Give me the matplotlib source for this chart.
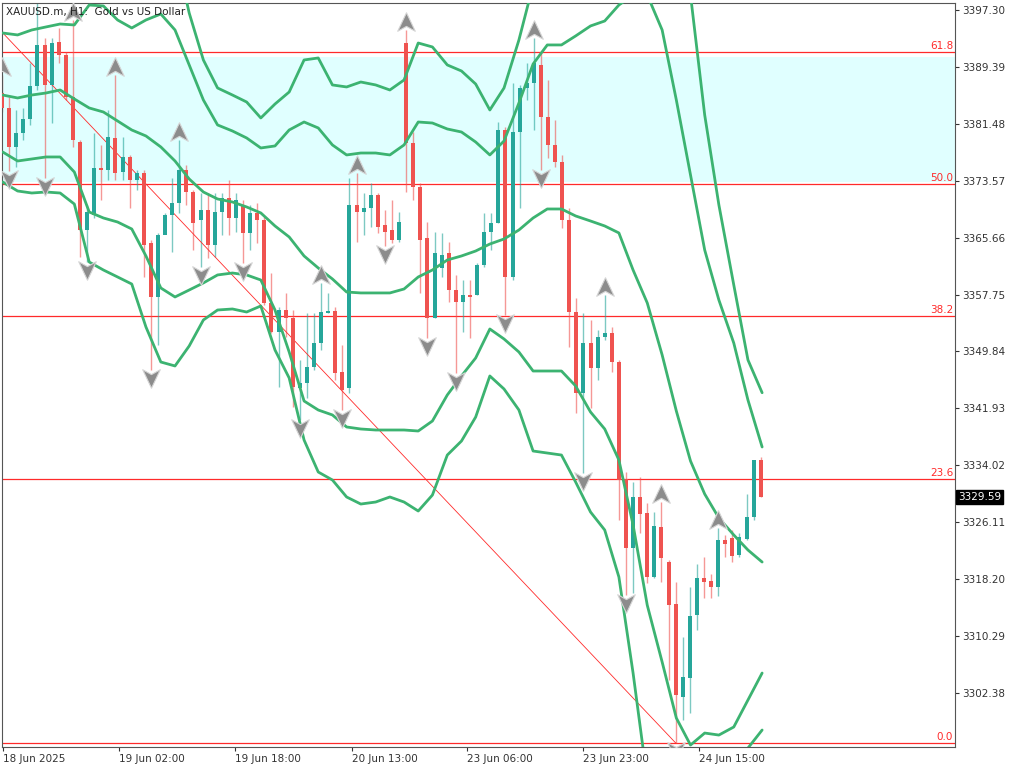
import matplotlib
matplotlib.use('Agg')
import matplotlib.pyplot as plt
from matplotlib.path import Path
from matplotlib.transforms import blended_transform_factory

# ---- velas H1 XAUUSD ----
opens = [
    3385.76, 3383.68, 3378.26, 3380.21, 3382.15, 3386.74, 3392.44, 3386.88, 3392.85, 3391.05,
    3385.21, 3378.95, 3366.72, 3368.81, 3375.34, 3375.06, 3379.51, 3374.78, 3376.87, 3373.67,
    3374.65, 3364.92, 3357.41, 3366.03, 3368.81, 3370.48, 3375.06, 3372.00, 3368.11, 3369.50,
    3364.64, 3369.23, 3371.17, 3368.39, 3370.20, 3366.31, 3369.09, 3368.11, 3356.58, 3352.55,
    3355.60, 3354.49, 3344.76, 3345.46, 3347.68, 3351.02, 3355.19, 3355.47, 3346.99, 3344.76,
    3370.20, 3369.23, 3369.78, 3371.59, 3367.42, 3366.72, 3365.34, 3392.71, 3378.81, 3372.70,
    3365.61, 3354.49, 3361.44, 3363.53, 3358.38, 3356.72, 3357.69, 3357.69, 3361.86, 3366.45,
    3367.70, 3380.62, 3360.19, 3380.34, 3386.46, 3387.15, 3389.66, 3382.43, 3378.54, 3376.17,
    3368.11, 3355.33, 3344.07, 3351.02, 3347.54, 3351.85, 3352.41, 3348.38, 3332.12, 3322.53,
    3329.62, 3327.39, 3318.50, 3325.45, 3320.58, 3314.75, 3301.82, 3304.46, 3313.22, 3318.36,
    3317.94, 3317.11, 3323.64, 3323.92, 3321.56, 3323.78, 3326.84, 3334.76]
closes = [
    3383.68, 3378.26, 3380.21, 3382.15, 3386.74, 3392.44, 3386.88, 3392.71, 3391.05, 3385.21,
    3379.23, 3366.72, 3369.23, 3375.34, 3375.06, 3379.65, 3374.65, 3376.87, 3373.67, 3374.65,
    3364.64, 3357.41, 3366.03, 3368.81, 3370.48, 3375.06, 3372.00, 3367.70, 3369.50, 3364.64,
    3369.23, 3371.17, 3368.39, 3370.89, 3366.31, 3369.09, 3368.11, 3356.58, 3352.55, 3355.60,
    3354.49, 3344.90, 3345.46, 3347.68, 3351.02, 3355.33, 3355.47, 3346.85, 3344.49, 3370.20,
    3369.23, 3369.78, 3371.59, 3367.14, 3366.45, 3365.34, 3367.84, 3378.81, 3372.70, 3365.34,
    3354.49, 3363.53, 3363.25, 3358.38, 3356.72, 3357.69, 3357.41, 3361.86, 3366.45, 3367.70,
    3380.62, 3360.19, 3380.34, 3386.46, 3387.15, 3389.93, 3382.43, 3378.54, 3376.17, 3368.11,
    3355.33, 3344.07, 3351.02, 3347.54, 3351.85, 3352.41, 3348.38, 3331.98, 3322.53, 3329.62,
    3327.25, 3318.50, 3325.58, 3321.14, 3314.61, 3302.10, 3304.60, 3313.08, 3318.36, 3317.80,
    3317.11, 3323.64, 3323.08, 3321.42, 3324.06, 3326.84, 3334.76, 3329.59]
highs = [
    3388.27, 3385.21, 3383.40, 3383.68, 3389.93, 3398.50, 3393.41, 3393.41, 3394.80, 3391.46,
    3395.91, 3379.23, 3370.20, 3380.21, 3378.54, 3383.40, 3388.27, 3379.65, 3377.15, 3375.06,
    3375.06, 3365.34, 3366.31, 3369.09, 3373.95, 3379.23, 3375.76, 3372.28, 3371.87, 3371.87,
    3371.87, 3371.87, 3373.67, 3371.87, 3370.89, 3370.20, 3370.48, 3368.53, 3360.75, 3356.02,
    3357.97, 3355.60, 3348.66, 3355.19, 3355.19, 3359.36, 3357.97, 3356.02, 3350.74, 3373.95,
    3374.65, 3371.87, 3373.26, 3371.87, 3369.50, 3370.89, 3369.23, 3394.52, 3380.34, 3373.26,
    3367.84, 3366.45, 3366.31, 3365.06, 3360.47, 3359.77, 3359.77, 3362.14, 3369.09, 3369.09,
    3381.73, 3381.04, 3387.15, 3386.88, 3389.93, 3393.41, 3391.32, 3387.57, 3382.01, 3377.15,
    3369.78, 3357.27, 3355.19, 3354.22, 3352.83, 3357.69, 3353.24, 3348.66, 3333.09, 3331.70,
    3332.40, 3328.78, 3327.53, 3328.92, 3320.86, 3317.80, 3310.16, 3317.11, 3320.30, 3321.28,
    3318.91, 3325.31, 3324.34, 3325.03, 3324.61, 3330.03, 3334.76, 3335.17]
lows = [
    3383.12, 3374.90, 3375.48, 3379.23, 3381.32, 3386.18, 3373.95, 3381.60, 3389.93, 3384.79,
    3378.26, 3362.97, 3362.28, 3368.39, 3370.89, 3373.67, 3373.67, 3373.67, 3369.78, 3372.28,
    3360.19, 3347.27, 3350.74, 3366.45, 3363.67, 3369.09, 3370.20, 3363.94, 3361.58, 3362.83,
    3362.97, 3366.03, 3366.03, 3366.45, 3362.14, 3363.94, 3364.92, 3356.30, 3352.41, 3344.90,
    3351.85, 3342.12, 3340.31, 3343.38, 3347.27, 3350.05, 3355.19, 3345.88, 3341.71, 3344.07,
    3365.06, 3366.03, 3367.14, 3366.31, 3364.50, 3364.92, 3365.06, 3372.00, 3370.89, 3357.97,
    3351.72, 3354.49, 3360.19, 3356.72, 3346.85, 3352.55, 3351.72, 3357.69, 3361.58, 3363.94,
    3367.70, 3354.91, 3359.77, 3369.78, 3384.79, 3380.62, 3375.06, 3376.73, 3375.48, 3367.00,
    3350.46, 3341.29, 3332.95, 3341.98, 3345.88, 3351.44, 3346.99, 3326.42, 3316.00, 3316.27,
    3324.61, 3317.66, 3318.36, 3317.80, 3304.19, 3295.43, 3298.62, 3299.60, 3311.13, 3315.58,
    3315.58, 3315.86, 3321.28, 3320.58, 3321.28, 3323.64, 3326.42, 3329.59]

# fractales (indice de vela)
frac_up = [0, 5, 10, 16, 25, 45, 50, 57, 75, 85, 93, 101]
frac_down = [1, 6, 12, 21, 28, 34, 42, 48, 54, 60, 64, 71, 76, 82, 88, 95]

# bandas de bollinger (leidas cada ~2 velas)
band_x = [0.1, 2.2, 4.2, 6.2, 8.2, 10.2, 12.3, 14.3, 16.3, 18.3,
          20.3, 22.4, 24.4, 26.4, 28.4, 30.4, 32.5, 34.5, 36.5, 38.5,
          40.5, 42.6, 44.6, 46.6, 48.6, 50.6, 52.7, 54.7, 56.7, 58.7,
          60.7, 62.8, 64.8, 66.8, 68.8, 70.8, 72.9, 74.9, 76.9, 78.9,
          80.9, 83.0, 85.0, 87.0, 89.0, 91.0, 93.1, 95.1, 97.1, 99.1,
          101.1, 103.2, 105.2, 107.2]
bb_mid = [3385.48, 3385.07, 3385.48, 3385.76, 3386.18, 3384.93, 3383.68, 3383.12, 3381.87, 3380.62,
          3379.79, 3378.26, 3376.31, 3373.81, 3372.00, 3371.03, 3370.61, 3369.92, 3369.09, 3367.28,
          3365.75, 3363.11, 3361.44, 3359.91, 3358.10, 3357.97, 3357.97, 3357.97, 3358.52, 3360.19,
          3361.16, 3362.55, 3363.11, 3363.80, 3364.77, 3365.47, 3366.72, 3368.39, 3369.64, 3369.64,
          3368.67, 3367.97, 3367.28, 3366.31, 3361.16, 3356.58, 3349.35, 3341.56, 3334.61, 3330.02,
          3326.69, 3324.33, 3322.24, 3320.57]
bb_up2 = [3394.10, 3393.83, 3394.52, 3394.94, 3395.35, 3395.22, 3397.99, 3397.86, 3395.91, 3394.80,
          3395.91, 3396.74, 3394.52, 3389.66, 3384.79, 3381.32, 3380.48, 3379.51, 3378.12, 3378.40,
          3380.62, 3381.73, 3380.90, 3378.54, 3377.15, 3377.42, 3377.42, 3377.15, 3378.54, 3381.73,
          3381.59, 3380.76, 3380.34, 3378.95, 3377.15, 3379.09, 3384.37, 3389.79, 3392.44, 3392.44,
          3393.69, 3395.08, 3395.77, 3397.99, 3399.39, 3399.39, 3394.52, 3384.79, 3374.37, 3363.94,
          3356.99, 3351.01, 3343.09, 3336.56]
bb_dn2 = [3377.56, 3376.31, 3376.59, 3376.87, 3376.87, 3374.78, 3369.22, 3368.39, 3367.83, 3366.86,
          3363.11, 3358.66, 3357.41, 3358.38, 3359.36, 3360.47, 3360.74, 3360.47, 3359.77, 3355.60,
          3349.76, 3342.95, 3341.70, 3341.01, 3339.34, 3339.06, 3338.92, 3338.92, 3338.92, 3338.78,
          3340.17, 3343.79, 3346.43, 3348.93, 3352.96, 3351.57, 3349.76, 3347.12, 3347.12, 3347.12,
          3345.04, 3341.42, 3339.06, 3334.75, 3325.72, 3314.57, 3306.67, 3298.89, 3295.13, 3296.80,
          3296.52, 3297.64, 3301.39, 3305.14]
bb_up3 = [3399.00, 3399.11, 3399.80, 3400.08, 3400.36, 3399.39, 3404.25, 3404.95, 3404.95, 3404.25,
          3406.34, 3407.73, 3405.64, 3396.88, 3390.35, 3386.46, 3385.48, 3384.51, 3382.29, 3384.23,
          3385.90, 3390.35, 3390.63, 3386.88, 3386.60, 3387.29, 3386.88, 3386.18, 3387.57, 3392.71,
          3392.16, 3389.66, 3388.82, 3387.01, 3383.40, 3386.46, 3393.13, 3400.78, 3404.25, 3404.25,
          3406.34, 3409.12, 3409.81, 3411.20, 3409.81, 3407.03, 3404.25, 3402.17, 3399.39, 3382.71,
          3370.21, 3359.09, 3348.66, 3344.10]
bb_dn3 = [3373.39, 3372.14, 3371.86, 3372.00, 3371.86, 3370.33, 3362.27, 3361.16, 3360.19, 3359.21,
          3353.24, 3348.37, 3347.82, 3350.60, 3354.21, 3355.60, 3355.74, 3355.32, 3356.16, 3350.04,
          3346.15, 3337.53, 3333.08, 3331.97, 3329.61, 3328.63, 3328.91, 3329.61, 3328.91, 3327.66,
          3329.88, 3335.44, 3337.39, 3340.72, 3346.43, 3344.62, 3341.70, 3336.00, 3335.72, 3335.44,
          3331.69, 3327.52, 3325.02, 3318.49, 3305.14, 3290.27, 3281.93, 3276.37, 3273.59, 3277.34,
          3283.18, 3289.58, 3294.71, 3297.22]

# fibonacci y rectangulo
fib_high = 3450.9
fib_low = 3295.43
fib_bar_high = -54.5
fib_bar_low = 95
fib_levels = [0.0, 23.6, 38.2, 50.0, 61.8]
rect_top = 3390.77
rect_bottom = 3373.39

price_ticks = [3397.30, 3389.39, 3381.48, 3373.57, 3365.66, 3357.75, 3349.84,
               3341.93, 3334.02, 3326.11, 3318.20, 3310.29, 3302.38]
time_pos = [0.2, 16.5, 32.8, 49.3, 65.6, 82.0, 98.3]
time_labels = ['18 Jun 2025', '19 Jun 02:00', '19 Jun 18:00', '20 Jun 13:00',
               '23 Jun 06:00', '23 Jun 23:00', '24 Jun 15:00']

TEAL = '#26a69a'
RED = '#ef5350'
GREEN = '#3cb371'
FIBC = '#ff2a2a'

fig = plt.figure(figsize=(10.24, 7.73), dpi=100)
ax = fig.add_axes([2 / 1024, 26 / 773, 953 / 1024, 744 / 773])
ax.set_xlim(0, 134.4)
ax.set_ylim(3294.86, 3398.27)

ax.axhspan(rect_bottom, rect_top, color='#e0ffff', lw=0, zorder=0)

trans = blended_transform_factory(ax.transAxes, ax.transData)
rng = fib_high - fib_low
for lvl in fib_levels:
    p = fib_low + rng * lvl / 100
    ax.axhline(p, color=FIBC, lw=0.9, zorder=1)
    ax.text(0.998, p + 0.15, f'{lvl:.1f}', transform=trans, ha='right', va='bottom',
            color=FIBC, fontsize=7.5, zorder=6)
ax.plot([fib_bar_high, fib_bar_low], [fib_high, fib_low], color=FIBC, lw=0.6, zorder=2.5)

# velas
xs = list(range(len(closes)))
cols = [TEAL if c >= o else RED for o, c in zip(opens, closes)]
ax.vlines(xs, lows, highs, colors=cols, lw=1.0, alpha=0.6, zorder=2)
bottoms = [min(o, c) for o, c in zip(opens, closes)]
heights = [max(abs(c - o), 0.2) for o, c in zip(opens, closes)]
ax.bar(xs, heights, bottom=bottoms, width=0.56, color=cols, lw=0, zorder=3)

# bandas
for band in [bb_up3, bb_up2, bb_mid, bb_dn2, bb_dn3]:
    ax.plot(band_x, band, color=GREEN, lw=2.0, zorder=4,
            solid_capstyle='round', solid_joinstyle='round')

# fractales
up_arrow = Path([(0, 0.5), (0.45, -0.45), (0, -0.2), (-0.45, -0.45), (0, 0.5)],
                [Path.MOVETO, Path.LINETO, Path.LINETO, Path.LINETO, Path.CLOSEPOLY])
down_arrow = Path([(0, -0.5), (0.45, 0.45), (0, 0.2), (-0.45, 0.45), (0, -0.5)],
                  [Path.MOVETO, Path.LINETO, Path.LINETO, Path.LINETO, Path.CLOSEPOLY])
off = 1.1
ax.plot(frac_up, [highs[i] + off for i in frac_up], ls='none', marker=up_arrow, ms=14,
        mfc='#8c8c8c', mec='#d4d4d4', mew=0.8, zorder=5)
ax.plot(frac_down, [lows[i] - off for i in frac_down], ls='none', marker=down_arrow, ms=14,
        mfc='#8c8c8c', mec='#d4d4d4', mew=0.8, zorder=5)

# ejes
ax.yaxis.tick_right()
ax.set_yticks(price_ticks)
ax.set_yticklabels([f'{v:.2f}' for v in price_ticks])
ax.set_xticks(time_pos)
ax.set_xticklabels(time_labels, ha='left')
ax.tick_params(axis='both', direction='out', length=3, width=0.8, labelsize=7.5,
               colors='#333333', pad=2)
for s in ax.spines.values():
    s.set_color('#555555')
    s.set_linewidth(0.8)

ax.text(1.003, closes[-1], f'{closes[-1]:.2f}', transform=trans, ha='left', va='center',
        color='white', fontsize=7.5, clip_on=False,
        bbox=dict(facecolor='black', edgecolor='black', pad=1.5))
ax.text(0.004, 0.995, 'XAUUSD.m, H1:  Gold vs US Dollar', transform=ax.transAxes,
        ha='left', va='top', fontsize=7.5, color='#222222', zorder=6)

fig.savefig('out.png', dpi=100)
